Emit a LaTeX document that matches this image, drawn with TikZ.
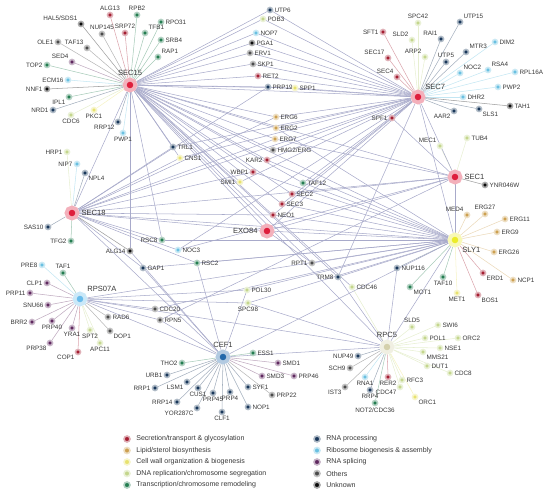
\documentclass[tikz,border=0pt]{standalone}
\usepackage{fontspec}
\setmainfont{Liberation Sans}
\usepackage{tikz}
\usetikzlibrary{backgrounds}
\definecolor{secc}{RGB}{165,30,50}
\definecolor{lipc}{RGB}{205,160,80}
\definecolor{cwlc}{RGB}{232,226,110}
\definecolor{dnac}{RGB}{196,214,140}
\definecolor{trac}{RGB}{35,125,80}
\definecolor{rnac}{RGB}{25,55,90}
\definecolor{ribc}{RGB}{105,192,225}
\definecolor{splc}{RGB}{95,40,95}
\definecolor{othc}{RGB}{75,75,75}
\definecolor{unkc}{RGB}{10,10,10}
\definecolor{hubred}{RGB}{222,30,60}
\definecolor{hubyel}{RGB}{236,236,40}
\definecolor{hubblue}{RGB}{35,105,170}
\definecolor{hubsky}{RGB}{105,188,235}
\definecolor{hubbeige}{RGB}{212,208,172}
\definecolor{edgec}{RGB}{168,170,202}
\definecolor{txtc}{RGB}{55,55,55}

\begin{document}
\begin{tikzpicture}[x=0.02cm,y=-0.02cm,dot/.style={circle,inner sep=0pt,minimum size=0.1cm,fill=#1,draw=#1!35,line width=0.9pt},hub/.style={circle,inner sep=0pt,minimum size=0.22cm,fill=#1,draw=#1!35,line width=2.2pt},lbl/.style={font=\fontsize{3.6}{4}\selectfont,text=txtc,inner sep=0.5pt},hlbl/.style={font=\fontsize{4.3}{5}\selectfont,text=txtc,inner sep=1pt},spoke/.style={draw=#1!40,line width=0.3pt},cross/.style={draw=edgec,line width=0.3pt},key/.style={font=\fontsize{4}{5}\selectfont,text=txtc,anchor=west,inner sep=0pt}]
\useasboundingbox (0,0) rectangle (550,492);
\foreach \n/\x/\y/\c/\p/\t in %
{sec15/130/85/hubred/above/SEC15,sec7/418/97/hubred/above right/SEC7,sec1/455/177/hubred/right/SEC1,sec18/72/213/hubred/right/SEC18,exo84/267/231/hubred/left/EXO84,sly1/455/240/hubyel/below right/SLY1,rpb7/80/299/hubsky/above right/RPS07A,cef1/223/357/hubblue/above/CEF1,rpc5/387/347/hubbeige/above/RPC5} {
   \node[hub=\c,label={[hlbl]\p:\t}] (\n) at (\x,\y) {};
}
\foreach \n/\x/\y/\c/\p/\t/\h in %
{alg13/110/15/secc/above/ALG13/sec15,rpb2/137/15/trac/above/RPB2/sec15,rpo31/161/22/trac/right/RPO31/sec15,tfb1/145/33/trac/above right/TFB1/sec15,srb4/161/40/trac/right/SRB4/sec15,rap1/158/57/trac/above right/RAP1/sec15,hal5/81/24/unkc/above left/HAL5\slash SDS1/sec15,nup145/102/34/othc/above/NUP145/sec15,srp72/125/33/secc/above/SRP72/sec15,ole1/58/42/othc/left/OLE1/sec15,taf13/87/48/othc/above left/TAF13/sec15,sed4/72/62/splc/above left/SED4/sec15,top2/47/65/trac/left/TOP2/sec15,ecm16/68/80/ribc/left/ECM16/sec15,nnf1/47/89/unkc/left/NNF1/sec15,ipl1/69/97/trac/below left/IPL1/sec15,nrd1/53/110/rnac/left/NRD1/sec15,cdc6/71/115/dnac/below/CDC6/sec15,pkc1/94/110/cwlc/below/PKC1/sec15,rrp12/118/122/rnac/below left/RRP12/sec15,pwp1/123/133/ribc/below/PWP1/sec15,
hrp1/67/152/dnac/left/HRP1/sec18,nip7/77/164/ribc/left/NIP7/sec18,npl4/85/173/rnac/below right/NPL4/sec18,sas10/48/227/rnac/left/SAS10/sec18,tfg2/71/241/trac/left/TFG2/sec18,alg14/130/251/unkc/left/ALG14/sec18,
utp15/460/22/rnac/above right/UTP15/sec7,spc42/418/23/dnac/above/SPC42/sec7,rai1/441/39/rnac/above left/RAI1/sec7,arp2/425/57/dnac/above left/ARP2/sec7,utp5/446/62/rnac/above/UTP5/sec7,mtr3/466/52/rnac/above right/MTR3/sec7,dim2/495/42/ribc/right/DIM2/sec7,noc2/460/73/ribc/above right/NOC2/sec7,rsa4/488/70/ribc/above right/RSA4/sec7,rpl16a/515/72/ribc/right/RPL16A/sec7,pwp2/498/87/ribc/right/PWP2/sec7,dhr2/463/97/ribc/right/DHR2/sec7,aar2/454/111/rnac/below left/AAR2/sec7,sls1/479/109/rnac/below right/SLS1/sec7,tah1/510/106/unkc/right/TAH1/sec7,sft1/383/32/secc/left/SFT1/sec7,sld2/412/40/dnac/above left/SLD2/sec7,sec17/388/58/secc/above left/SEC17/sec7,sec4/397/77/secc/above left/SEC4/sec7,
mec1/440/146/dnac/above left/MEC1/sec1,tub4/467/138/dnac/right/TUB4/sec1,ynr046w/485/185/unkc/right/YNR046W/sec1,
med4/467/215/lipc/above left/MED4/sly1,erg27/485/214/lipc/above/ERG27/sly1,erg11/505/219/lipc/right/ERG11/sly1,erg9/497/232/lipc/right/ERG9/sly1,erg26/494/252/lipc/right/ERG26/sly1,ncp1/513/280/lipc/right/NCP1/sly1,erd1/483/273/secc/below right/ERD1/sly1,bos1/478/295/secc/below right/BOS1/sly1,met1/457/293/cwlc/below/MET1/sly1,taf10/443/277/trac/below/TAF10/sly1,mot1/410/287/trac/below right/MOT1/sly1,nup116/397/268/rnac/right/NUP116/sly1,
cdc46/352/287/dnac/right/CDC46/rpc5,sld5/412/327/dnac/above/SLD5/rpc5,swi6/438/325/dnac/right/SWI6/rpc5,pol1/425/338/dnac/right/POL1/rpc5,orc2/458/338/dnac/right/ORC2/rpc5,nse1/440/348/dnac/right/NSE1/rpc5,mms21/423/352/dnac/below right/MMS21/rpc5,cdc8/450/373/dnac/right/CDC8/rpc5,nup49/358/356/rnac/left/NUP49/rpc5,sch9/350/368/othc/left/SCH9/rpc5,rna1/365/377/ribc/below/RNA1/rpc5,rer2/388/377/secc/below/RER2/rpc5,rfc3/402/380/dnac/right/RFC3/rpc5,dut1/427/366/dnac/right/DUT1/rpc5,ist3/345/387/othc/below left/IST3/rpc5,rrp4/370/390/rnac/below/RRP4/rpc5,cdc47/400/387/dnac/below left/CDC47/rpc5,orc1/415/397/cwlc/below right/ORC1/rpc5,cdc36/375/403/trac/below/NOT2\slash CDC36/rpc5,
pre8/42/265/ribc/left/PRE8/rpb7,taf1/63/273/trac/above/TAF1/rpb7,clp1/47/283/splc/left/CLP1/rpb7,prp11/30/293/splc/left/PRP11/rpb7,snu66/48/305/splc/left/SNU66/rpb7,brr2/32/322/splc/left/BRR2/rpb7,prp40/52/321/splc/below/PRP40/rpb7,yra1/72/328/splc/below/YRA1/rpb7,prp38/50/343/splc/below left/PRP38/rpb7,spt2/90/330/dnac/below/SPT2/rpb7,cop1/78/352/secc/below left/COP1/rpb7,rad6/108/317/othc/right/RAD6/rpb7,dop1/110/331/othc/below right/DOP1/rpb7,apc11/100/343/dnac/below/APC11/rpb7,
urb1/167/375/rnac/left/URB1/cef1,rrp1/155/388/rnac/left/RRP1/cef1,lsm1/187/382/rnac/below left/LSM1/cef1,cus1/198/388/rnac/below/CUS1/cef1,prp45/213/393/rnac/below/PRP45/cef1,prp4/230/392/rnac/below/PRP4/cef1,syf1/248/387/rnac/right/SYF1/cef1,prp22/272/395/othc/right/PRP22/cef1,nop1/248/407/rnac/right/NOP1/cef1,rrp14/177/402/rnac/left/RRP14/cef1,yor287c/197/408/rnac/below left/YOR287C/cef1,clf1/222/412/rnac/below/CLF1/cef1,smd1/278/363/splc/right/SMD1/cef1,smd3/262/376/splc/right/SMD3/cef1,prp46/294/376/splc/right/PRP46/cef1,ess1/253/353/trac/right/ESS1/cef1,tho2/182/363/trac/left/THO2/cef1} {
   \node[dot=\c,label={[lbl]\p:\t}] (\n) at (\x,\y) {};
   \begin{pgfonlayer}{background}
   \draw[spoke=\c] (\h) -- (\n);
   \end{pgfonlayer}
}
\foreach \n/\x/\y/\c/\p/\t in %
{utp6/270/10/rnac/right/UTP6,pob3/263/19/dnac/right/POB3,nop7/256/33/ribc/right/NOP7,pga1/252/43/unkc/right/PGA1,erv1/250/53/othc/right/ERV1,skp1/253/64/othc/right/SKP1,ret2/258/76/secc/right/RET2,prp19/268/87/rnac/right/PRP19,spp1/295/88/cwlc/right/SPP1,spf1/392/118/secc/left/SPF1,erg6/276/117/lipc/right/ERG6,erg2/276/128/lipc/right/ERG2,erg7/275/139/lipc/right/ERG7,hmg2/273/150/othc/right/HMG2\slash ERG,kar2/267/160/secc/left/KAR2,wbp1/253/172/secc/left/WBP1,smi1/240/182/cwlc/left/SMI1,taf12/303/183/trac/right/TAF12,sec2/292/194/secc/right/SEC2,sec3/282/204/secc/right/SEC3,neo1/273/215/secc/right/NEO1,trl1/173/147/rnac/right/TRL1,cns1/180/158/cwlc/right/CNS1,rsc8/162/240/trac/left/RSC8,noc3/178/250/ribc/right/NOC3,rsc2/197/263/trac/right/RSC2,gap1/143/268/rnac/right/GAP1,rpt1/312/263/othc/left/RPT1,trm8/338/277/rnac/left/TRM8,pol30/247/290/dnac/right/POL30,spc98/248/303/dnac/below/SPC98,cdc20/155/309/othc/right/CDC20,rpn5/160/320/othc/right/RPN5} {
   \node[dot=\c,label={[lbl]\p:\t}] (\n) at (\x,\y) {};
}
\begin{pgfonlayer}{background}
\foreach \a/\b in %
{sec15/sec7,sec15/sec1,sec15/sec18,sec15/exo84,sec15/sly1,sec15/rpc5,sec7/sec1,sec7/exo84,sec7/sly1,sec7/sec18,sec18/sly1,sec18/exo84,exo84/sly1,sec1/sly1,sec1/sec18,sec1/exo84,sly1/rpc5,sly1/rpb7,rpb7/cef1,rpb7/rpc5,cef1/rpc5,cef1/sly1,cef1/sec18,
utp6/sec15,utp6/sec7,pob3/sec15,pob3/sec7,nop7/sec15,nop7/sec7,pga1/sec15,pga1/sec7,erv1/sec15,erv1/sec7,skp1/sec15,skp1/sec7,ret2/sec15,ret2/sec7,prp19/sec15,prp19/sec7,prp19/sec18,spp1/sec15,spp1/sec7,spf1/sec7,spf1/sec1,
erg6/sec15,erg6/sec7,erg6/sec18,erg2/sec15,erg2/sec7,erg2/sly1,erg7/sec15,erg7/sec18,erg7/sec1,hmg2/sec15,hmg2/sec7,kar2/sec15,kar2/sec7,kar2/sly1,wbp1/sec15,wbp1/sec18,wbp1/sly1,smi1/sec15,smi1/sec7,
taf12/sec15,taf12/sec7,taf12/sly1,sec2/sec15,sec2/sec1,sec2/sly1,sec3/sec15,sec3/sec7,sec3/sly1,neo1/sec18,neo1/sec7,neo1/sly1,trl1/sec15,trl1/sec7,trl1/sec18,cns1/sec15,cns1/sec7,cns1/sec18,
rsc8/sec18,rsc8/sec15,rsc8/sly1,noc3/sec18,noc3/sec7,noc3/sec1,rsc2/sec18,rsc2/sly1,rsc2/cef1,gap1/sec18,gap1/cef1,gap1/sly1,rpt1/sly1,rpt1/sec15,rpt1/exo84,trm8/sec15,trm8/sec7,trm8/sly1,trm8/rpc5,
pol30/sly1,pol30/rpb7,pol30/cef1,spc98/rpb7,spc98/sly1,spc98/rpc5,cdc20/rpb7,cdc20/sly1,rpn5/rpb7,rpn5/cef1,rpn5/sec1,alg14/sec15,alg14/cef1,cdc46/sec15,nup116/rpc5} {
   \draw[cross] (\a) -- (\b);
}
\end{pgfonlayer}
\foreach \c/\t [count=\i] in %
{secc/Secretion\slash transport \& glycosylation,lipc/Lipid\slash sterol biosynthesis,cwlc/Cell wall organization \& biogenesis,dnac/DNA replication\slash chromosome segregation,trac/Transcription\slash chromosome remodeling} {
   \node[dot=\c,minimum size=0.12cm] (keya\i) at (127,427.5+11.5*\i) {};
   \node[key] (keyta\i) at (136,427.5+11.5*\i) {\t};
}
\foreach \c/\t [count=\i] in %
{rnac/RNA processing,ribc/Ribosome biogenesis \& assembly,splc/RNA splicing,othc/Others,unkc/Unknown} {
   \node[dot=\c,minimum size=0.12cm] (keyb\i) at (317,427.5+11.5*\i) {};
   \node[key] (keytb\i) at (326,427.5+11.5*\i) {\t};
}
\end{tikzpicture}
\end{document}
